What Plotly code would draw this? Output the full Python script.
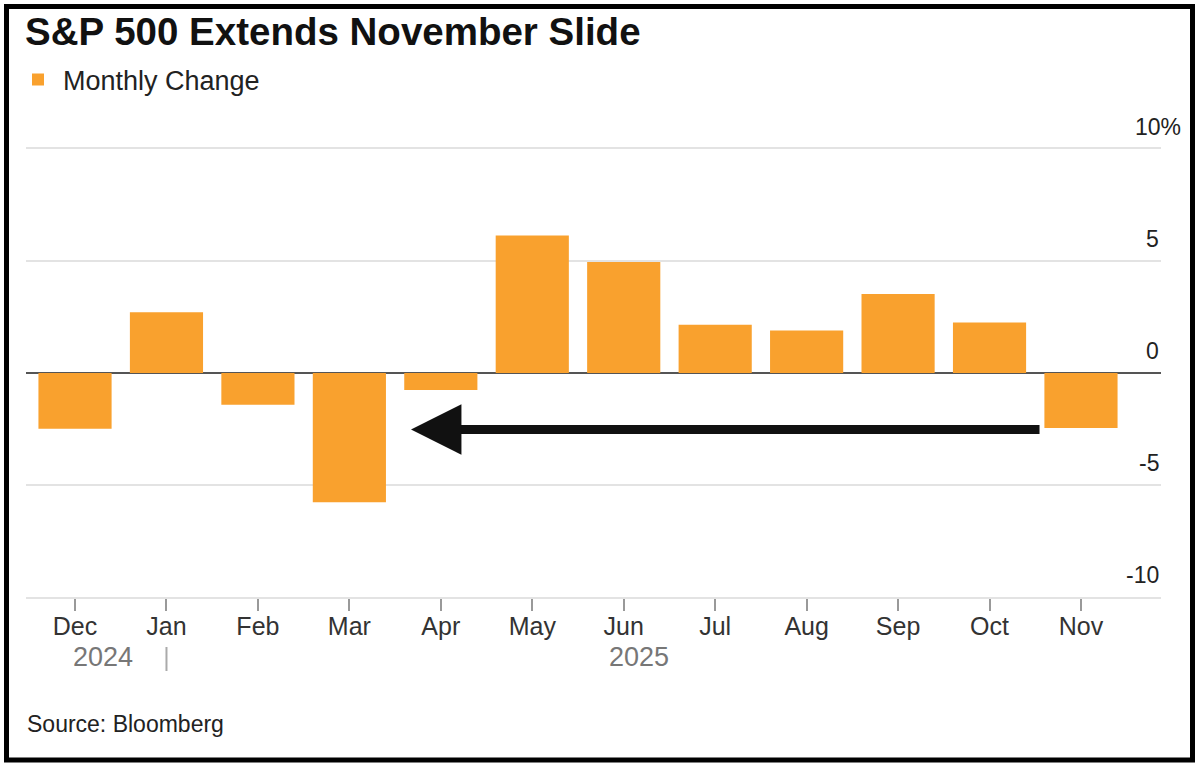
import plotly.graph_objects as go

# ---- data ----
months = ["Dec", "Jan", "Feb", "Mar", "Apr", "May", "Jun", "Jul", "Aug", "Sep", "Oct", "Nov"]
monthly_change = [-2.49, 2.71, -1.42, -5.77, -0.76, 6.14, 4.95, 2.15, 1.90, 3.53, 2.25, -2.46]
y_tick_values = [-10, -5, 0, 5, 10]
year_labels = ["2024", "2025"]

# ---- layout geometry (pixels) ----
W, H = 1198, 770
PL, PR, PT, PB = 26, 1161, 149, 597   # plot area edges


def px_x(px):
    return (px - PL) / (PR - PL)


def px_y(py):
    return (PB - py) / (PB - PT)


FONT = "Liberation Sans, Arial, sans-serif"
ORANGE = "#F9A12E"
GRID = "#e3e3e3"

fig = go.Figure()
fig.add_trace(go.Bar(
    x=list(range(len(months))),
    y=monthly_change,
    name="Monthly Change",
    marker=dict(color=ORANGE, line=dict(width=0)),
    showlegend=True,
))

# y labels above gridlines, right side
annotations = []
for v in y_tick_values:
    label = f"{v}%" if v == max(y_tick_values) else f"{v}"
    annotations.append(dict(
        x=px_x(1161), xref="paper", y=v, yref="y",
        text=label, showarrow=False, xanchor="right", yanchor="bottom",
        yshift=7, xshift=22 if v == max(y_tick_values) else 0,
        font=dict(family=FONT, size=23, color="#222222"),
    ))

# year labels
year_pos = [0.31, 6.17]
for yl, xp in zip(year_labels, year_pos):
    annotations.append(dict(
        x=xp, xref="x", y=px_y(657), yref="paper", text=yl, showarrow=False,
        xanchor="center", yanchor="middle",
        font=dict(family=FONT, size=27, color="#777777"),
    ))

# arrow
annotations.append(dict(
    x=3.674, y=-2.52, xref="x", yref="y",
    ax=10.563, ay=-2.52, axref="x", ayref="y",
    text="", showarrow=True, arrowhead=2, arrowsize=1.12, arrowwidth=9,
    arrowcolor="#111111", standoff=0,
))

# source
annotations.append(dict(
    x=px_x(25), xref="paper", y=px_y(724), yref="paper",
    text="Source: Bloomberg", showarrow=False, xanchor="left", yanchor="middle",
    font=dict(family=FONT, size=23, color="#222222"),
))

shapes = [
    # year divider at Jan
    dict(type="line", xref="x", yref="paper", x0=1, x1=1,
         y0=px_y(647), y1=px_y(671), line=dict(color="#aaaaaa", width=2)),
    # outer frame
    dict(type="rect", xref="paper", yref="paper",
         x0=px_x(6.5), x1=px_x(1192.5), y0=px_y(760), y1=px_y(6.5),
         line=dict(color="#000000", width=5), layer="above"),
]

fig.update_layout(
    width=W, height=H,
    margin=dict(l=PL, r=W - PR, t=PT, b=H - PB, pad=0),
    paper_bgcolor="white", plot_bgcolor="white",
    bargap=0.2,
    title=dict(
        text="<b>S&P 500 Extends November Slide</b>",
        x=25 / W, xanchor="left", xref="container",
        y=1 - 32 / H, yanchor="middle", yref="container",
        font=dict(family=FONT, size=38.5, color="#111111"),
    ),
    legend=dict(
        x=px_x(13), y=px_y(80), xanchor="left", yanchor="middle",
        orientation="h", font=dict(family=FONT, size=27, color="#222222"),
        bgcolor="rgba(0,0,0,0)", itemclick=False, itemwidth=40,
    ),
    xaxis=dict(
        tickmode="array", tickvals=list(range(len(months))), ticktext=months,
        range=[-0.536, 11.875], showgrid=False, zeroline=False,
        showline=True, mirror=True, linecolor=GRID, linewidth=2,
        ticks="outside", ticklen=12, tickwidth=2, tickcolor="#999999",
        tickfont=dict(family=FONT, size=25, color="#333333"),
        ticklabelstandoff=-6,
        fixedrange=True,
    ),
    yaxis=dict(
        range=[-10, 10], tickmode="array", tickvals=y_tick_values,
        showticklabels=False, showgrid=True, gridcolor=GRID, gridwidth=2,
        zeroline=True, zerolinecolor="#555555", zerolinewidth=2,
        showline=False, fixedrange=True,
    ),
    annotations=annotations,
    shapes=shapes,
    font=dict(family=FONT),
)

fig.write_html("out.html", config={"displayModeBar": False},
               post_script="document.body.style.margin='0';")
